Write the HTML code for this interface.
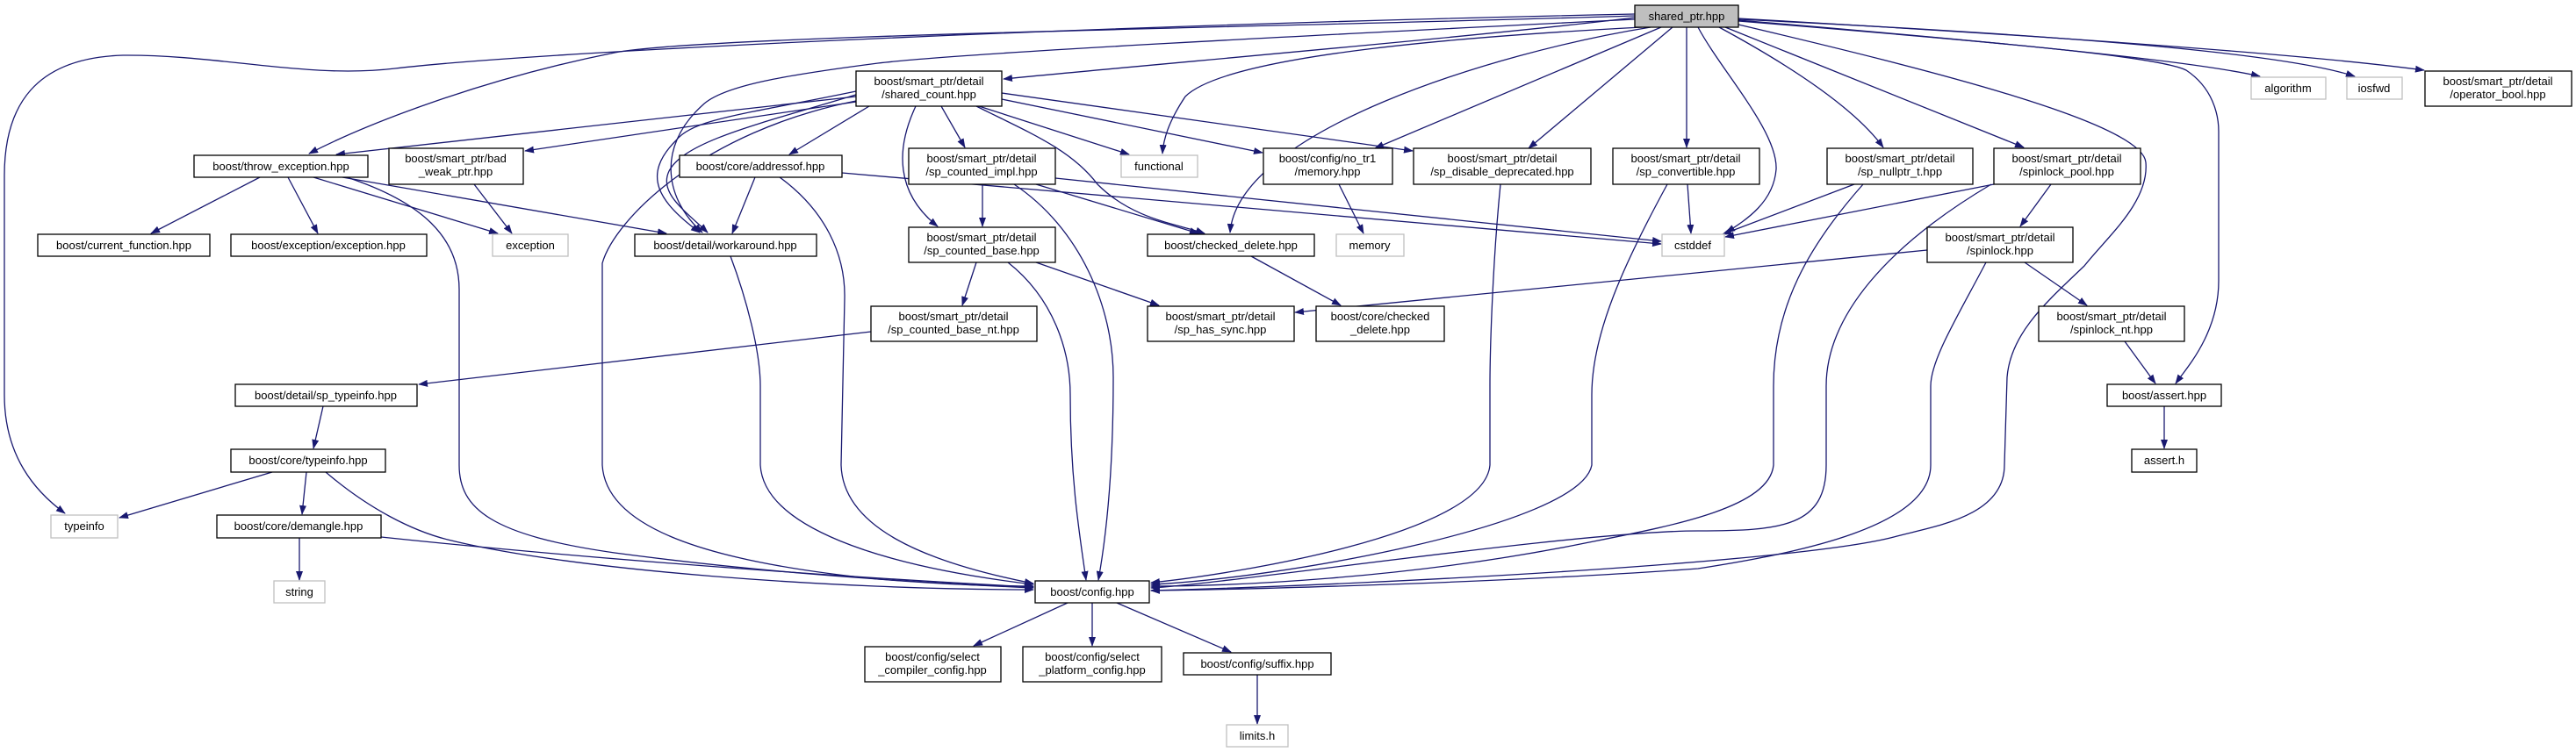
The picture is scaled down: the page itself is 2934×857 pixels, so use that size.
<!DOCTYPE html>
<html><head><meta charset="utf-8"><style>
html,body{margin:0;padding:0;background:#fff;}
svg{display:block;}
text{font-family:"Liberation Sans",sans-serif;font-size:13px;fill:#000;}
.n{fill:#fff;stroke:#000;stroke-width:1.3;}
.g{fill:#fff;stroke:#bfbfbf;stroke-width:1.3;}
.r{fill:#bfbfbf;stroke:#000;stroke-width:1.3;}
.e{fill:none;stroke:#191970;stroke-width:1.3;}
</style></head><body>
<svg width="2934" height="857" viewBox="0 0 2934 857" xmlns="http://www.w3.org/2000/svg">
<defs><marker id="a" markerWidth="11" markerHeight="8" refX="10" refY="4" orient="auto" markerUnits="userSpaceOnUse"><path d="M0,0 L11,4 L0,8 z" fill="#191970"/></marker></defs>
<g class="edges" marker-end="url(#a)">
<path class="e" d="M1862,20 C1700,40 1350,70 1143,90"/>
<path class="e" d="M1862,18 C1500,30 800,40 700,60 C550,90 420,140 352,175"/>
<path class="e" d="M1862,16 C1200,30 600,60 450,78 C350,90 250,62 140,63 C40,66 5,120 5,200 L5,450 C5,520 40,560 74,585"/>
<path class="e" d="M1862,22 C1500,40 1100,60 1000,72 C900,85 823,97 800,120 C745,170 760,230 800,265"/>
<path class="e" d="M1870,31 C1700,40 1400,60 1350,110 C1330,140 1325,160 1324,175"/>
<path class="e" d="M1880,31 C1700,60 1410,150 1401,265"/>
<path class="e" d="M1892,31 L1566,169"/>
<path class="e" d="M1905,31 L1741,169"/>
<path class="e" d="M1921,31 L1921,168"/>
<path class="e" d="M1934,31 C1960,80 2025,150 2023,193 C2020,230 1990,250 1966,265"/>
<path class="e" d="M1958,31 C2030,70 2110,120 2145,168"/>
<path class="e" d="M1965,31 L2305,168"/>
<path class="e" d="M1980,28 C2200,80 2440,140 2444,185 C2448,230 2400,270 2374,303 C2330,345 2290,380 2286,430 L2283,530 C2283,590 2200,600 2157,612 C2050,640 1600,665 1311,673"/>
<path class="e" d="M1980,24 C2300,50 2460,65 2490,80 C2520,100 2527,130 2527,150 L2527,320 C2527,380 2490,420 2478,437"/>
<path class="e" d="M1980,23 C2300,50 2500,70 2574,87"/>
<path class="e" d="M1980,22 C2350,40 2600,60 2682,87"/>
<path class="e" d="M1980,21 C2400,45 2650,65 2761,80"/>
<path class="e" d="M975,110 L383,176"/>
<path class="e" d="M975,116 L598,172"/>
<path class="e" d="M990,121 L899,176"/>
<path class="e" d="M1072,121 L1099,168"/>
<path class="e" d="M1043,121 C1020,170 1020,220 1068,258"/>
<path class="e" d="M1115,121 L1286,176"/>
<path class="e" d="M1141,113 L1438,174"/>
<path class="e" d="M1141,106 L1609,172"/>
<path class="e" d="M1112,121 C1170,150 1220,170 1250,210 C1290,250 1340,255 1372,266"/>
<path class="e" d="M975,104 C850,130 790,135 770,160 C730,200 750,230 797,265"/>
<path class="e" d="M978,107 C870,140 780,160 762,195 C750,220 780,240 806,265"/>
<path class="e" d="M975,115 C800,150 700,250 686,300 L686,530 C690,600 800,640 1000,660 C1100,668 1150,668 1177,668"/>
<path class="e" d="M959,197 L1892,278"/>
<path class="e" d="M1202,203 L1892,275"/>
<path class="e" d="M296,202 L172,266"/>
<path class="e" d="M328,202 L362,266"/>
<path class="e" d="M357,202 L567,266"/>
<path class="e" d="M390,202 L759,266"/>
<path class="e" d="M395,202 C480,230 523,270 523,330 L523,530 C523,580 560,610 700,630 C850,650 1000,662 1177,670"/>
<path class="e" d="M540,210 L583,266"/>
<path class="e" d="M860,202 L834,266"/>
<path class="e" d="M888,202 C940,240 963,290 962,340 L958,530 C960,600 1050,640 1177,665"/>
<path class="e" d="M832,292 C850,340 866,400 866,440 L866,530 C870,600 1000,645 1177,666"/>
<path class="e" d="M1119,210 L1119,258"/>
<path class="e" d="M1180,210 L1365,266"/>
<path class="e" d="M1155,210 C1230,260 1268,350 1268,430 C1268,520 1262,600 1251,661"/>
<path class="e" d="M1112,299 L1096,348"/>
<path class="e" d="M1180,299 L1320,348"/>
<path class="e" d="M1148,299 C1200,340 1219,400 1219,450 C1219,540 1228,600 1237,661"/>
<path class="e" d="M1525,210 L1553,266"/>
<path class="e" d="M1709,210 C1700,300 1697,400 1697,440 L1697,530 C1690,610 1400,655 1311,664"/>
<path class="e" d="M1899,210 C1850,300 1813,380 1813,450 L1813,530 C1800,600 1450,660 1311,666"/>
<path class="e" d="M1922,210 L1926,266"/>
<path class="e" d="M2112,210 L1962,267"/>
<path class="e" d="M2122,210 C2060,280 2020,350 2020,440 L2020,530 C2015,580 1900,600 1800,620 C1600,660 1400,668 1311,668"/>
<path class="e" d="M2271,210 L1965,270"/>
<path class="e" d="M2336,210 L2301,258"/>
<path class="e" d="M2268,210 C2150,280 2080,360 2080,440 L2080,530 C2080,600 2030,605 1934,605 C1800,605 1400,665 1311,670"/>
<path class="e" d="M2195,285 L1475,356"/>
<path class="e" d="M2306,299 L2377,348"/>
<path class="e" d="M2262,299 C2230,360 2199,410 2199,440 L2199,530 C2199,600 2050,630 1934,648 C1700,665 1400,672 1311,673"/>
<path class="e" d="M1425,292 L1527,348"/>
<path class="e" d="M2420,389 L2455,437"/>
<path class="e" d="M992,378 L477,438"/>
<path class="e" d="M368,463 L357,511"/>
<path class="e" d="M310,538 L136,590"/>
<path class="e" d="M349,538 L344,586"/>
<path class="e" d="M371,538 C420,580 470,605 510,615 C650,650 950,672 1177,672"/>
<path class="e" d="M341,613 L341,661"/>
<path class="e" d="M434,612 C700,640 1000,660 1177,669"/>
<path class="e" d="M2465,463 L2465,511"/>
<path class="e" d="M1216,687 L1109,736"/>
<path class="e" d="M1244,687 L1244,736"/>
<path class="e" d="M1272,687 L1402,743"/>
<path class="e" d="M1432,769 L1432,825"/>
</g>
<g text-anchor="middle">
<rect class="r" x="1862" y="6" width="118" height="25"/><text x="1921" y="23">shared_ptr.hpp</text>
<rect class="n" x="975" y="81" width="166" height="40"/><text x="1058" y="97">boost/smart_ptr/detail</text><text x="1058" y="112">/shared_count.hpp</text>
<rect class="n" x="2762" y="81" width="167" height="40"/><text x="2845" y="97">boost/smart_ptr/detail</text><text x="2845" y="112">/operator_bool.hpp</text>
<rect class="g" x="2564" y="88" width="85" height="25"/><text x="2606" y="105">algorithm</text>
<rect class="g" x="2673" y="88" width="63" height="25"/><text x="2704" y="105">iosfwd</text>
<rect class="n" x="221" y="177" width="198" height="25"/><text x="320" y="194">boost/throw_exception.hpp</text>
<rect class="n" x="443" y="169" width="153" height="41"/><text x="519" y="185">boost/smart_ptr/bad</text><text x="519" y="200">_weak_ptr.hpp</text>
<rect class="n" x="774" y="177" width="185" height="25"/><text x="866" y="194">boost/core/addressof.hpp</text>
<rect class="n" x="1035" y="169" width="167" height="41"/><text x="1118" y="185">boost/smart_ptr/detail</text><text x="1118" y="200">/sp_counted_impl.hpp</text>
<rect class="g" x="1277" y="177" width="87" height="25"/><text x="1320" y="194">functional</text>
<rect class="n" x="1439" y="169" width="147" height="41"/><text x="1512" y="185">boost/config/no_tr1</text><text x="1512" y="200">/memory.hpp</text>
<rect class="n" x="1610" y="169" width="202" height="41"/><text x="1711" y="185">boost/smart_ptr/detail</text><text x="1711" y="200">/sp_disable_deprecated.hpp</text>
<rect class="n" x="1837" y="169" width="167" height="41"/><text x="1920" y="185">boost/smart_ptr/detail</text><text x="1920" y="200">/sp_convertible.hpp</text>
<rect class="n" x="2081" y="169" width="166" height="41"/><text x="2164" y="185">boost/smart_ptr/detail</text><text x="2164" y="200">/sp_nullptr_t.hpp</text>
<rect class="n" x="2271" y="169" width="167" height="41"/><text x="2354" y="185">boost/smart_ptr/detail</text><text x="2354" y="200">/spinlock_pool.hpp</text>
<rect class="n" x="43" y="267" width="196" height="25"/><text x="141" y="284">boost/current_function.hpp</text>
<rect class="n" x="263" y="267" width="223" height="25"/><text x="374" y="284">boost/exception/exception.hpp</text>
<rect class="g" x="561" y="267" width="86" height="25"/><text x="604" y="284">exception</text>
<rect class="n" x="723" y="267" width="207" height="25"/><text x="826" y="284">boost/detail/workaround.hpp</text>
<rect class="n" x="1035" y="259" width="167" height="40"/><text x="1118" y="275">boost/smart_ptr/detail</text><text x="1118" y="290">/sp_counted_base.hpp</text>
<rect class="n" x="1307" y="267" width="190" height="25"/><text x="1402" y="284">boost/checked_delete.hpp</text>
<rect class="g" x="1522" y="267" width="77" height="25"/><text x="1560" y="284">memory</text>
<rect class="g" x="1893" y="267" width="71" height="25"/><text x="1928" y="284">cstddef</text>
<rect class="n" x="2195" y="259" width="166" height="40"/><text x="2278" y="275">boost/smart_ptr/detail</text><text x="2278" y="290">/spinlock.hpp</text>
<rect class="n" x="992" y="349" width="189" height="40"/><text x="1086" y="365">boost/smart_ptr/detail</text><text x="1086" y="380">/sp_counted_base_nt.hpp</text>
<rect class="n" x="1307" y="349" width="167" height="40"/><text x="1390" y="365">boost/smart_ptr/detail</text><text x="1390" y="380">/sp_has_sync.hpp</text>
<rect class="n" x="1499" y="349" width="146" height="40"/><text x="1572" y="365">boost/core/checked</text><text x="1572" y="380">_delete.hpp</text>
<rect class="n" x="2322" y="349" width="166" height="40"/><text x="2405" y="365">boost/smart_ptr/detail</text><text x="2405" y="380">/spinlock_nt.hpp</text>
<rect class="n" x="2400" y="438" width="130" height="25"/><text x="2465" y="455">boost/assert.hpp</text>
<rect class="n" x="268" y="438" width="207" height="25"/><text x="371" y="455">boost/detail/sp_typeinfo.hpp</text>
<rect class="n" x="263" y="512" width="176" height="26"/><text x="351" y="529">boost/core/typeinfo.hpp</text>
<rect class="n" x="2428" y="512" width="74" height="26"/><text x="2465" y="529">assert.h</text>
<rect class="g" x="58" y="587" width="76" height="26"/><text x="96" y="604">typeinfo</text>
<rect class="n" x="247" y="587" width="187" height="26"/><text x="340" y="604">boost/core/demangle.hpp</text>
<rect class="n" x="1179" y="662" width="130" height="25"/><text x="1244" y="679">boost/config.hpp</text>
<rect class="g" x="312" y="662" width="58" height="25"/><text x="341" y="679">string</text>
<rect class="n" x="985" y="737" width="155" height="40"/><text x="1062" y="753">boost/config/select</text><text x="1062" y="768">_compiler_config.hpp</text>
<rect class="n" x="1165" y="737" width="158" height="40"/><text x="1244" y="753">boost/config/select</text><text x="1244" y="768">_platform_config.hpp</text>
<rect class="n" x="1348" y="744" width="168" height="25"/><text x="1432" y="761">boost/config/suffix.hpp</text>
<rect class="g" x="1397" y="826" width="70" height="25"/><text x="1432" y="843">limits.h</text>
</g>
</svg>
</body></html>
